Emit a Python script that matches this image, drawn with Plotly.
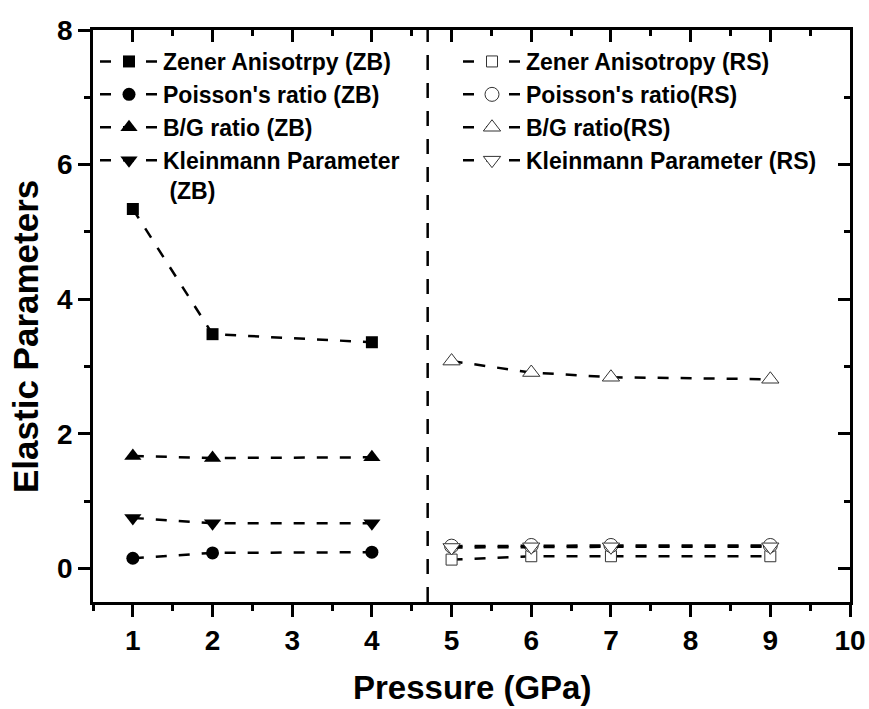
import plotly.graph_objects as go

# Pressure points for the two phases
pressure_zb = [1, 2, 4]
pressure_rs = [5, 6, 7, 9]

# Zinc-blende (ZB) phase
zener_zb = [5.34, 3.48, 3.36]
poisson_zb = [0.15, 0.23, 0.24]
bg_zb = [1.67, 1.64, 1.65]
klein_zb = [0.75, 0.67, 0.67]

# Rock-salt (RS) phase
zener_rs = [0.13, 0.18, 0.18, 0.18]
poisson_rs = [0.33, 0.34, 0.34, 0.34]
bg_rs = [3.08, 2.91, 2.84, 2.81]
klein_rs = [0.31, 0.32, 0.32, 0.32]

# Phase boundary position
transition_p = 4.7

x_ticks = [1, 2, 3, 4, 5, 6, 7, 8, 9, 10]
y_ticks = [0, 2, 4, 6, 8]

FONT = "Arial, Liberation Sans, sans-serif"
DASH = "11px,12px"
LW = 2.5

# plot-area geometry in pixels
W, H = 869, 709
ML, MR, MT, MB = 93, 19, 30, 107
PW, PH = W - ML - MR, H - MT - MB


def px_x(px):
    return (px - ML) / PW


def px_y(py):
    return 1 - (py - MT) / PH


fig = go.Figure()

zb_series = [
    ("Zener Anisotrpy (ZB)", zener_zb, "square", 12),
    ("Poisson's ratio (ZB)", poisson_zb, "circle", 13),
    ("B/G ratio (ZB)", bg_zb, "triangle-up", 15),
    ("Kleinmann Parameter<br> (ZB)", klein_zb, "triangle-down", 15),
]
for name, vals, sym, sz in zb_series:
    fig.add_trace(go.Scatter(
        x=pressure_zb, y=vals, name=name, mode="lines+markers",
        line=dict(color="black", width=LW, dash=DASH),
        marker=dict(symbol=sym, size=sz, color="black"),
        legend="legend",
    ))

# hollow (white-filled) symbols so the dashed line stops at the outline
rs_series = [
    ("Zener Anisotropy (RS)", zener_rs, "square", 11),
    ("Poisson's ratio(RS)", poisson_rs, "circle", 14),
    ("B/G ratio(RS)", bg_rs, "triangle-up", 15),
    ("Kleinmann Parameter (RS)", klein_rs, "triangle-down", 15),
]
for name, vals, sym, sz in rs_series:
    fig.add_trace(go.Scatter(
        x=pressure_rs, y=vals, name=name, mode="lines+markers",
        line=dict(color="black", width=LW, dash=DASH),
        marker=dict(symbol=sym, size=sz, color="white",
                    line=dict(width=1, color="#333333")),
        legend="legend2",
    ))

# empty traces so the mirrored top and right frame axes get drawn
fig.add_trace(go.Scatter(x=[], y=[], xaxis="x2", yaxis="y",
                         showlegend=False, hoverinfo="skip"))
fig.add_trace(go.Scatter(x=[], y=[], xaxis="x", yaxis="y2",
                         showlegend=False, hoverinfo="skip"))

# Vertical dashed separator between the phases
fig.add_shape(type="line", x0=transition_p, x1=transition_p, y0=0, y1=1,
              xref="x", yref="paper",
              line=dict(color="black", width=2.5, dash="15px,13px"))

axis_common = dict(showgrid=False, zeroline=False, showline=True,
                   linecolor="black", linewidth=2.5, tickcolor="black",
                   tickwidth=2.5, automargin=False)

legend_common = dict(yanchor="top", xanchor="left", bgcolor="rgba(0,0,0,0)",
                     itemwidth=58, valign="top", tracegroupgap=0,
                     font=dict(size=23, weight="bold", family=FONT,
                               color="black"))

fig.update_layout(
    template="none",
    width=W, height=H,
    margin=dict(l=ML, r=MR, t=MT, b=MB, autoexpand=False),
    paper_bgcolor="white", plot_bgcolor="white",
    font=dict(family=FONT, color="black"),
    xaxis=dict(range=[0.5, 10], tickvals=x_ticks, ticks="outside", ticklen=12,
               minor=dict(dtick=0.5, tick0=0.5, ticks="outside", ticklen=6,
                          tickwidth=2.5, tickcolor="black"),
               tickfont=dict(size=28, weight="bold", family=FONT),
               **axis_common),
    yaxis=dict(range=[-0.5, 8], tickvals=y_ticks, ticks="outside", ticklen=12,
               minor=dict(dtick=1, tick0=0, ticks="outside", ticklen=6,
                          tickwidth=2.5, tickcolor="black"),
               tickfont=dict(size=28, weight="bold", family=FONT),
               **axis_common),
    xaxis2=dict(range=[0.5, 10], overlaying="x", side="top", anchor="y",
                tickvals=x_ticks, ticks="inside", ticklen=12,
                showticklabels=False,
                minor=dict(dtick=0.5, tick0=0.5, ticks="inside", ticklen=6,
                           tickwidth=2.5, tickcolor="black"),
                **axis_common),
    yaxis2=dict(range=[-0.5, 8], overlaying="y", side="right", anchor="x",
                tickvals=y_ticks, ticks="inside", ticklen=12,
                showticklabels=False,
                minor=dict(dtick=1, tick0=0, ticks="inside", ticklen=6,
                           tickwidth=2.5, tickcolor="black"),
                **axis_common),
    legend=dict(x=px_x(95), y=px_y(40), **legend_common),
    legend2=dict(x=px_x(458), y=px_y(40), **legend_common),
    showlegend=True,
    annotations=[
        dict(text="<b>Pressure (GPa)</b>", x=0.5, y=px_y(708),
             xref="paper", yref="paper", xanchor="center", yanchor="bottom",
             showarrow=False, font=dict(size=33, family=FONT)),
        dict(text="<b>Elastic Parameters</b>", x=px_x(25), y=px_y(337),
             xref="paper", yref="paper", xanchor="center", yanchor="middle",
             textangle=-90, showarrow=False, font=dict(size=35, family=FONT)),
    ],
)

fig.write_html("out.html")
